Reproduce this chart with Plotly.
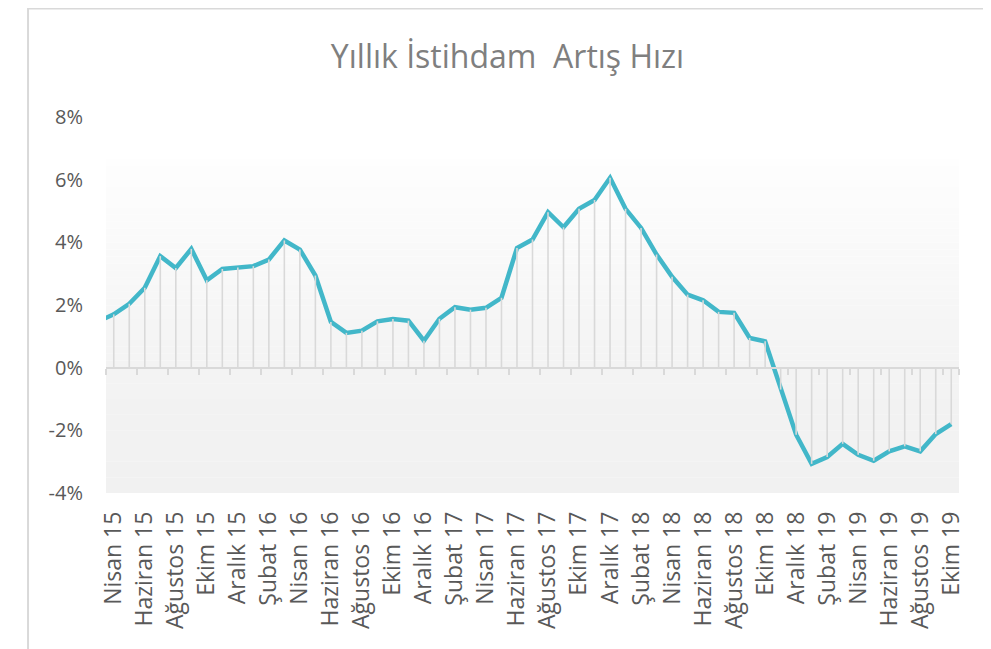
import plotly.graph_objects as go

# "Mart 15" is only partially visible at the left edge of the reference (clipped)
categories = [
    "Mart 15",
    "Nisan 15", "Mayıs 15", "Haziran 15", "Temmuz 15", "Ağustos 15", "Eylül 15",
    "Ekim 15", "Kasım 15", "Aralık 15", "Ocak 16", "Şubat 16", "Mart 16",
    "Nisan 16", "Mayıs 16", "Haziran 16", "Temmuz 16", "Ağustos 16", "Eylül 16",
    "Ekim 16", "Kasım 16", "Aralık 16", "Ocak 17", "Şubat 17", "Mart 17",
    "Nisan 17", "Mayıs 17", "Haziran 17", "Temmuz 17", "Ağustos 17", "Eylül 17",
    "Ekim 17", "Kasım 17", "Aralık 17", "Ocak 18", "Şubat 18", "Mart 18",
    "Nisan 18", "Mayıs 18", "Haziran 18", "Temmuz 18", "Ağustos 18", "Eylül 18",
    "Ekim 18", "Kasım 18", "Aralık 18", "Ocak 19", "Şubat 19", "Mart 19",
    "Nisan 19", "Mayıs 19", "Haziran 19", "Temmuz 19", "Ağustos 19", "Eylül 19",
    "Ekim 19",
]

employment_growth = [
    1.48,
    1.70, 2.04, 2.55, 3.56, 3.18, 3.79, 2.79, 3.15, 3.20, 3.24, 3.45, 4.06,
    3.77, 2.94, 1.46, 1.11, 1.18, 1.48, 1.55, 1.50, 0.86, 1.56, 1.93, 1.85,
    1.91, 2.23, 3.82, 4.09, 4.96, 4.48, 5.07, 5.35, 6.06, 5.07, 4.46, 3.61,
    2.90, 2.33, 2.15, 1.78, 1.75, 0.95, 0.84, -0.70, -2.14, -3.07, -2.85, -2.43,
    -2.78, -2.97, -2.67, -2.51, -2.67, -2.12, -1.80,
]

tick_labels = categories[1::2]
y_ticks = [-4, -2, 0, 2, 4, 6, 8]
y_tick_text = ["-4%", "-2%", "0%", "2%", "4%", "6%", "8%"]

title_text = "Yıllık İstihdam\u00a0 Artış Hızı"

# drop lines (from each point to the zero axis)
drop_x, drop_y = [], []
for c, v in zip(categories, employment_growth):
    drop_x += [c, c, None]
    drop_y += [0, v, None]

x_range = [0.5, len(categories) - 0.5]

fig = go.Figure()
fig.add_trace(go.Scatter(
    x=drop_x, y=drop_y, mode="lines", xaxis="x2",
    line=dict(color="#D9D9D9", width=1.6), hoverinfo="skip", showlegend=False,
))
fig.add_trace(go.Scatter(
    x=categories, y=employment_growth, mode="lines",
    line=dict(color="#42B7C9", width=4.5), showlegend=False,
))

# background gradient bands for the plot area
shapes = []
top_val, n_pos = 6.65, 30
for i in range(n_pos):
    y0 = top_val * i / n_pos
    y1 = top_val * (i + 1) / n_pos
    g = int(round(243 + (254 - 243) * (i + 0.5) / n_pos))
    shapes.append(dict(type="rect", xref="paper", yref="y", x0=0, x1=1, y0=y0, y1=y1,
                       fillcolor=f"rgb({g},{g},{g})", line=dict(width=0), layer="below"))
n_neg = 8
for i in range(n_neg):
    y0 = -4 + 4 * i / n_neg
    y1 = -4 + 4 * (i + 1) / n_neg
    g = int(round(241 + (243 - 241) * (i + 0.5) / n_neg))
    shapes.append(dict(type="rect", xref="paper", yref="y", x0=0, x1=1, y0=y0, y1=y1,
                       fillcolor=f"rgb({g},{g},{g})", line=dict(width=0), layer="below"))
# chart outline
shapes.append(dict(type="rect", xref="paper", yref="paper",
                   x0=-0.0914, x1=1.0328, y0=-0.45, y1=1.2886,
                   line=dict(color="#D9D9D9", width=2), fillcolor="rgba(0,0,0,0)", layer="below"))

W, H = 983, 641
fig.update_layout(
    width=W, height=H,
    margin=dict(l=98, r=32, t=109, b=156),
    paper_bgcolor="white", plot_bgcolor="white",
    shapes=shapes,
    title=dict(text=title_text, x=499.5 / W, xref="container", xanchor="center",
               y=1 - 49 / H, yref="container", yanchor="middle",
               font=dict(family="Open Sans", size=32, color="#7F7F7F")),
    xaxis=dict(
        type="category", categoryorder="array", categoryarray=categories,
        range=x_range,
        tickvals=tick_labels, ticktext=tick_labels, tickangle=-90,
        ticks="", showline=False, showgrid=False, zeroline=False,
        tickfont=dict(family="Open Sans", size=23, color="#595959"),
        ticklabelstandoff=13,
    ),
    xaxis2=dict(
        type="category", categoryorder="array", categoryarray=categories,
        range=x_range,
        overlaying="x", anchor="free", position=1 / 3,
        tickvals=tick_labels, tickson="boundaries",
        ticks="outside", ticklen=6, tickwidth=1.6, tickcolor="#D9D9D9",
        showticklabels=False, showline=True, linecolor="#D9D9D9", linewidth=2,
        showgrid=False, zeroline=False,
    ),
    yaxis=dict(
        range=[-4, 8], tickvals=y_ticks, ticktext=y_tick_text,
        showgrid=False, zeroline=False, showline=False, ticks="",
        tickfont=dict(family="Open Sans", size=20, color="#595959"),
        ticklabelstandoff=22,
    ),
)

fig.write_html("out.html")
